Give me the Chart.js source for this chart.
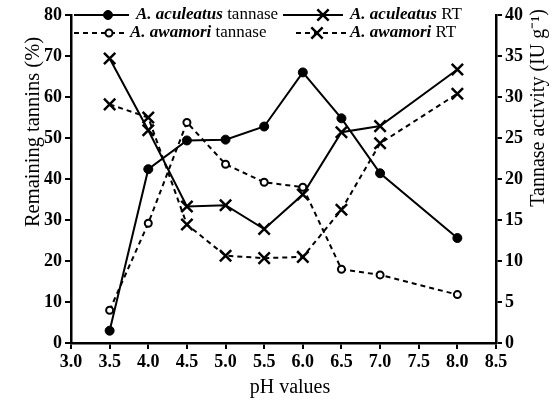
<!DOCTYPE html>
<html>
<head>
<meta charset="utf-8">
<script src="https://cdn.jsdelivr.net/npm/chart.js@4.4.1/dist/chart.umd.min.js"></script>
<style>
  html, body { margin: 0; padding: 0; background: #fff; }
  #wrap { width: 556px; height: 402px; }
</style>
</head>
<body>
<div id="wrap"><canvas id="chart" width="556" height="402"></canvas></div>
<script>
// pH values at which samples were taken
const phValues = [3.5, 4.0, 4.5, 5.0, 5.5, 6.0, 6.5, 7.0, 8.0];

// tannase activity (IU g-1), right axis
const aculeatusTannase = [1.5, 21.2, 24.7, 24.8, 26.4, 33.0, 27.4, 20.7, 12.8];
const awamoriTannase = [4.0, 14.6, 26.9, 21.8, 19.6, 19.0, 9.0, 8.3, 5.9];

// remaining tannins (%), left axis
const aculeatusRT = [69.4, 51.9, 33.3, 33.6, 27.8, 36.2, 51.4, 52.9, 66.7];
const awamoriRT = [58.2, 55.0, 28.9, 21.3, 20.7, 21.0, 32.5, 48.7, 60.8];

const seriesNames = [
  ["A. aculeatus", " tannase"],
  ["A. aculeatus", " RT"],
  ["A. awamori", " tannase"],
  ["A. awamori", " RT"]
];

const xTitle = "pH values";
const leftTitle = "Remaining tannins (%)";
const rightTitle = "Tannase activity (IU g\u207B\u00B9)";

const SERIF = '"Liberation Serif", "Times New Roman", serif';

function toPoints(ys) {
  return phValues.map((x, i) => ({ x: x, y: ys[i] }));
}

function axisStyle() {
  return {
    grid: { display: true, drawOnChartArea: false, drawTicks: true, tickLength: 6, color: "#000", lineWidth: 2 },
    border: { display: true, color: "#000", width: 2.5 },
    ticks: { color: "#000", font: { family: SERIF, size: 18, weight: "bold" }, padding: 3 }
  };
}

// one legend sample (line + marker) drawn like the dataset
function drawSample(ctx, ds, x0, x1, y, mx) {
  ctx.save();
  ctx.strokeStyle = "#000";
  ctx.lineWidth = 2;
  ctx.setLineDash(ds.borderDash || []);
  ctx.beginPath();
  ctx.moveTo(x0, y);
  ctx.lineTo(x1, y);
  ctx.stroke();
  ctx.setLineDash([]);
  ctx.fillStyle = ds.pointBackgroundColor;
  ctx.lineWidth = ds.pointBorderWidth;
  Chart.helpers.drawPoint(ctx, {
    pointStyle: ds.pointStyle,
    radius: ds.pointRadius,
    borderWidth: ds.pointBorderWidth
  }, mx, y);
  ctx.restore();
}

const paperLegend = {
  id: "paperLegend",
  afterDraw(chart) {
    const ctx = chart.ctx;
    const slots = [
      { ds: 0, x0: 74, x1: 129, mx: 108, tx: 136, y: 15 },
      { ds: 1, x0: 283, x1: 343, mx: 323, tx: 350, y: 15 },
      { ds: 2, x0: 74, x1: 128, mx: 109, tx: 130, y: 33 },
      { ds: 3, x0: 296, x1: 347, mx: 317, tx: 350, y: 33 }
    ];
    slots.forEach(s => {
      const ds = chart.data.datasets[s.ds];
      drawSample(ctx, ds, s.x0, s.x1, s.y, s.mx);

      const parts = seriesNames[s.ds];
      ctx.save();
      ctx.fillStyle = "#000";
      ctx.textBaseline = "middle";
      ctx.font = "italic bold 17px " + SERIF;
      ctx.fillText(parts[0], s.tx, s.y);
      const w = ctx.measureText(parts[0]).width;
      ctx.font = "17px " + SERIF;
      ctx.fillText(parts[1], s.tx + w, s.y);
      ctx.restore();
    });
  }
};

const axisTitles = {
  id: "axisTitles",
  afterDraw(chart) {
    const ctx = chart.ctx;
    ctx.save();
    ctx.fillStyle = "#000";
    ctx.font = "20px " + SERIF;
    ctx.textAlign = "center";
    ctx.textBaseline = "middle";
    ctx.fillText(xTitle, 290, 388);

    ctx.translate(34, 132);
    ctx.rotate(-Math.PI / 2);
    ctx.font = "20.5px " + SERIF;
    ctx.fillText(leftTitle, 0, 0);
    ctx.restore();

    ctx.save();
    ctx.fillStyle = "#000";
    ctx.font = "20px " + SERIF;
    ctx.textAlign = "center";
    ctx.textBaseline = "middle";
    ctx.translate(539, 108);
    ctx.rotate(-Math.PI / 2);
    ctx.fillText(rightTitle, 0, 0);
    ctx.restore();
  }
};

const xAxis = axisStyle();
const yAxis = axisStyle();
const y1Axis = axisStyle();

new Chart(document.getElementById("chart"), {
  type: "line",
  data: {
    datasets: [
      {
        label: seriesNames[0].join(""),
        data: toPoints(aculeatusTannase),
        yAxisID: "y1",
        borderColor: "#000",
        borderWidth: 2,
        pointStyle: "circle",
        pointRadius: 4.5,
        pointBorderWidth: 1,
        pointBackgroundColor: "#000",
        pointBorderColor: "#000",
        tension: 0
      },
      {
        label: seriesNames[1].join(""),
        data: toPoints(aculeatusRT),
        yAxisID: "y",
        borderColor: "#000",
        borderWidth: 2,
        pointStyle: "crossRot",
        pointRadius: 8,
        pointBorderWidth: 2.5,
        pointBackgroundColor: "#000",
        pointBorderColor: "#000",
        tension: 0
      },
      {
        label: seriesNames[2].join(""),
        data: toPoints(awamoriTannase),
        yAxisID: "y1",
        borderColor: "#000",
        borderWidth: 2,
        borderDash: [5, 4],
        pointStyle: "circle",
        pointRadius: 3.5,
        pointBorderWidth: 2,
        pointBackgroundColor: "#fff",
        pointBorderColor: "#000",
        tension: 0
      },
      {
        label: seriesNames[3].join(""),
        data: toPoints(awamoriRT),
        yAxisID: "y",
        borderColor: "#000",
        borderWidth: 2,
        borderDash: [5, 4],
        pointStyle: "crossRot",
        pointRadius: 8,
        pointBorderWidth: 2.5,
        pointBackgroundColor: "#000",
        pointBorderColor: "#000",
        tension: 0
      }
    ]
  },
  options: {
    responsive: false,
    animation: false,
    devicePixelRatio: 1,
    layout: { padding: { top: 15, left: 0, right: 0, bottom: 0 } },
    plugins: {
      legend: { display: false },
      title: { display: false },
      tooltip: { enabled: false }
    },
    scales: {
      x: Object.assign(xAxis, {
        type: "linear",
        min: 3.0,
        max: 8.5,
        ticks: Object.assign(xAxis.ticks, {
          stepSize: 0.5,
          maxRotation: 0,
          autoSkip: false,
          callback: v => v.toFixed(1)
        }),
        afterFit: s => { s.height = 59; }
      }),
      y: Object.assign(yAxis, {
        position: "left",
        min: 0,
        max: 80,
        ticks: Object.assign(yAxis.ticks, { stepSize: 10 }),
        afterFit: s => { s.width = 71; }
      }),
      y1: Object.assign(y1Axis, {
        position: "right",
        min: 0,
        max: 40,
        ticks: Object.assign(y1Axis.ticks, { stepSize: 5 }),
        afterFit: s => { s.width = 60; }
      })
    }
  },
  plugins: [paperLegend, axisTitles]
});
</script>
</body>
</html>
